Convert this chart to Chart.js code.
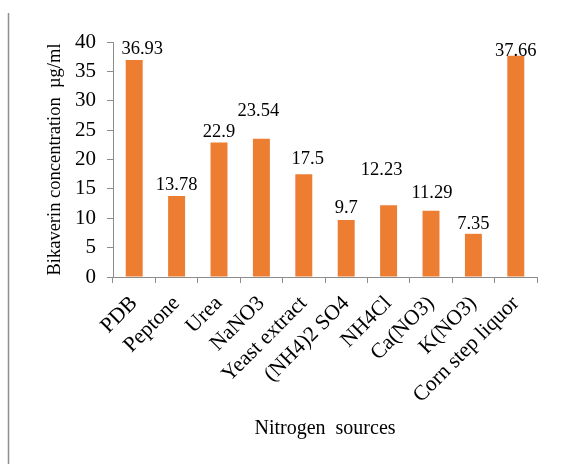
<!DOCTYPE html>
<html>
<head>
<meta charset="utf-8">
<script src="https://cdn.jsdelivr.net/npm/chart.js@4/dist/chart.umd.min.js"></script>
<style>
  html, body { margin: 0; padding: 0; background: #ffffff; }
  #wrap { position: relative; width: 563px; height: 464px; }
  canvas { display: block; }
</style>
</head>
<body>
<div id="wrap"><canvas id="chart" width="563" height="464"></canvas></div>
<script>
// Nitrogen sources tested and the bikaverin yield for each (µg/ml)
const sources = ['PDB', 'Peptone', 'Urea', 'NaNO3', 'Yeast extract', '(NH4)2 SO4',
                 'NH4Cl', 'Ca(NO3)', 'K(NO3)', 'Corn step liquor'];
const bikaverin = [36.93, 13.78, 22.9, 23.54, 17.5, 9.7, 12.23, 11.29, 7.35, 37.66];
const yTicks = [0, 5, 10, 15, 20, 25, 30, 35, 40];

// Hand placement of the value labels (pixels: right, up)
const labelNudgeX = [8, 0, 0, -3, 4, 0, -7, 1, 0, 0];
const labelNudgeY = [1, 1, 0, 18, 5, 2, 25, 8, 0, -5];

const SERIF = "'Liberation Serif', 'Times New Roman', Times, serif";
const AXIS_GREY = '#8c8c8c';

// Writes each bar's value above it
const valueLabels = {
  id: 'valueLabels',
  afterDatasetsDraw(chart) {
    const ctx = chart.ctx;
    const meta = chart.getDatasetMeta(0);
    ctx.save();
    ctx.font = '18.5px ' + SERIF;
    ctx.fillStyle = '#000000';
    ctx.textAlign = 'center';
    ctx.textBaseline = 'alphabetic';
    meta.data.forEach((bar, i) => {
      const v = chart.data.datasets[0].data[i];
      ctx.fillText(String(v), bar.x + labelNudgeX[i], bar.y - 5 - labelNudgeY[i]);
    });
    ctx.restore();
  }
};

// Thin grey rule down the left edge of the figure
const edgeRule = {
  id: 'edgeRule',
  beforeDraw(chart) {
    const ctx = chart.ctx;
    ctx.save();
    ctx.strokeStyle = '#8f8f8f';
    ctx.lineWidth = 1.5;
    ctx.beginPath();
    ctx.moveTo(8.5, 13);
    ctx.lineTo(8.5, chart.height);
    ctx.stroke();
    ctx.restore();
  }
};

new Chart(document.getElementById('chart'), {
  type: 'bar',
  data: {
    labels: sources,
    datasets: [{
      data: bikaverin,
      backgroundColor: '#ED7D31',
      borderWidth: 0,
      barPercentage: 0.4,
      categoryPercentage: 1.0
    }]
  },
  options: {
    responsive: false,
    animation: false,
    devicePixelRatio: 1,
    layout: { padding: { left: 0, top: 42, right: 26, bottom: 0 } },
    plugins: {
      legend: { display: false },
      tooltip: { enabled: false }
    },
    scales: {
      x: {
        afterFit(scale) { scale.height = 187; },
        grid: {
          display: true,
          drawOnChartArea: false,
          drawTicks: true,
          tickLength: 6,
          color: AXIS_GREY,
          offset: true
        },
        border: { display: true, color: AXIS_GREY, width: 1 },
        ticks: {
          color: '#000000',
          font: { family: SERIF, size: 21.5 },
          maxRotation: 45,
          minRotation: 45,
          autoSkip: false,
          padding: 8
        },
        title: {
          display: true,
          text: 'Nitrogen  sources',
          color: '#000000',
          font: { family: SERIF, size: 20 },
          padding: { top: 0, bottom: 23 }
        }
      },
      y: {
        min: 0,
        max: 40,
        afterFit(scale) { scale.width = 113; },
        afterBuildTicks(scale) { scale.ticks = yTicks.map(v => ({ value: v })); },
        grid: {
          display: true,
          drawOnChartArea: false,
          drawTicks: true,
          tickLength: 6,
          color: AXIS_GREY
        },
        border: { display: true, color: AXIS_GREY, width: 1 },
        ticks: {
          color: '#000000',
          font: { family: SERIF, size: 21 },
          padding: 11
        },
        title: {
          display: true,
          text: 'Bikaverin concentration  µg/ml',
          color: '#000000',
          font: { family: SERIF, size: 18.5 },
          padding: { top: 44, bottom: 0 }
        }
      }
    }
  },
  plugins: [valueLabels, edgeRule]
});
</script>
</body>
</html>
